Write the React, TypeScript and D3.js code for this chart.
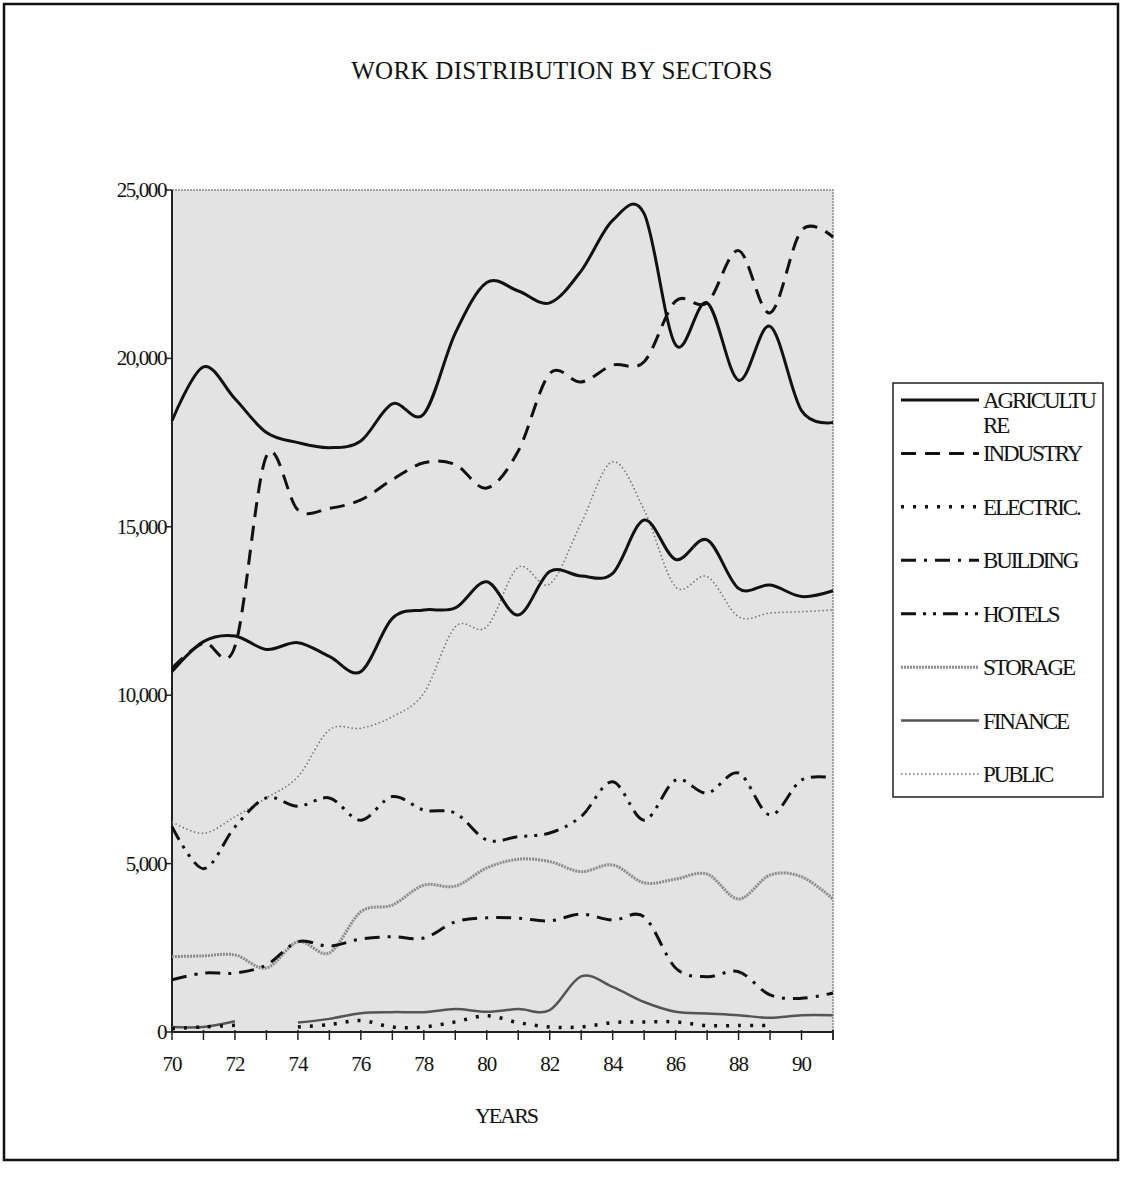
import React, { useEffect, useRef } from 'react';
import * as d3 from 'd3';

// years 1970..1991 (two-digit labels as in the original)
const YEARS = [70, 71, 72, 73, 74, 75, 76, 77, 78, 79, 80, 81, 82, 83, 84, 85, 86, 87, 88, 89, 90, 91];
const YEAR_LABELS = [70, 72, 74, 76, 78, 80, 82, 84, 86, 88, 90];
const Y_TICKS = [0, 5000, 10000, 15000, 20000, 25000];

const AGRICULTURE = [18150, 19750, 18800, 17800, 17500, 17350, 17550, 18650, 18350, 20750, 22250, 22000, 21650, 22600, 24100, 24300, 20400, 21650, 19350, 20950, 18450, 18100];
const INDUSTRY = [10800, 11550, 11450, 17100, 15500, 15550, 15800, 16400, 16900, 16850, 16150, 17250, 19550, 19300, 19800, 19900, 21700, 21650, 23200, 21350, 23800, 23600];
const ELECTRIC = [100, 150, 200, null, 150, 220, 340, 150, 150, 300, 480, 280, 150, 150, 280, 300, 300, 190, 190, 190, null, null];
const BUILDING = [1550, 1750, 1750, 1990, 2680, 2550, 2760, 2830, 2790, 3270, 3390, 3380, 3300, 3500, 3320, 3420, 1900, 1640, 1790, 1100, 1000, 1160];
const HOTELS = [6100, 4850, 6090, 6950, 6700, 6950, 6290, 6990, 6590, 6500, 5700, 5800, 5910, 6400, 7430, 6290, 7480, 7090, 7690, 6440, 7480, 7540];
const STORAGE = [2240, 2260, 2290, 1900, 2680, 2350, 3570, 3770, 4360, 4330, 4870, 5130, 5060, 4760, 4960, 4430, 4540, 4690, 3950, 4660, 4610, 3950];
const FINANCE = [150, 150, 320, null, 280, 390, 560, 590, 590, 680, 600, 680, 650, 1650, 1340, 890, 600, 550, 500, 420, 500, 500];
const PUBLIC = [6240, 5900, 6390, 6950, 7580, 8970, 9020, 9360, 10060, 12030, 12030, 13800, 13300, 15110, 16930, 15500, 13220, 13520, 12330, 12440, 12480, 12530];
// solid black series without a legend entry
const OTHER = [10700, 11590, 11760, 11360, 11560, 11150, 10700, 12280, 12530, 12590, 13370, 12380, 13670, 13540, 13620, 15200, 14030, 14610, 13170, 13270, 12930, 13100];

interface Series {
    name: string[];
    values: (number | null)[];
    stroke: string;
    width: number;
    dash: string | null;
    legend: boolean;
}

const SERIES: Series[] = [
    { name: ['AGRICULTU', 'RE'], values: AGRICULTURE, stroke: '#111', width: 3, dash: null, legend: true },
    { name: ['INDUSTRY'], values: INDUSTRY, stroke: '#111', width: 3, dash: '15,9', legend: true },
    { name: ['ELECTRIC.'], values: ELECTRIC, stroke: '#111', width: 3.5, dash: '3,9', legend: true },
    { name: ['BUILDING'], values: BUILDING, stroke: '#111', width: 3, dash: '15,8,3,8', legend: true },
    { name: ['HOTELS'], values: HOTELS, stroke: '#111', width: 3, dash: '15,7,3,7,3,7', legend: true },
    { name: ['STORAGE'], values: STORAGE, stroke: '#8c8c8c', width: 3, dash: '2,1', legend: true },
    { name: ['FINANCE'], values: FINANCE, stroke: '#555', width: 2.5, dash: null, legend: true },
    { name: ['PUBLIC'], values: PUBLIC, stroke: '#777', width: 1.6, dash: '1.5,2.5', legend: true },
    { name: ['OTHER'], values: OTHER, stroke: '#111', width: 3, dash: null, legend: false },
];

const W = 1124;
const H = 1187;
const FONT = "'Liberation Serif', 'Times New Roman', serif";

export default function App() {
    const svgRef = useRef<SVGSVGElement>(null);

    useEffect(() => {
        if (!svgRef.current) return;
        const svg = d3.select(svgRef.current);
        svg.selectAll('*').remove();

        const x = d3.scaleLinear().domain([70, 91]).range([172, 833]);
        const y = d3.scaleLinear().domain([0, 25000]).range([1032, 190]);

        svg.append('rect').attr('width', W).attr('height', H).attr('fill', '#fff');

        // outer frame of the scanned page
        svg.append('rect')
            .attr('x', 4).attr('y', 4).attr('width', 1114).attr('height', 1156)
            .attr('fill', 'none').attr('stroke', '#111').attr('stroke-width', 2.5);

        // title
        svg.append('text')
            .attr('x', 562).attr('y', 79)
            .attr('text-anchor', 'middle')
            .style('font-family', FONT).style('font-size', '25px')
            .style('letter-spacing', '0.3px')
            .attr('fill', '#111')
            .text('WORK DISTRIBUTION BY SECTORS');

        // plot area
        svg.append('rect')
            .attr('x', x(70)).attr('y', y(25000))
            .attr('width', x(91) - x(70)).attr('height', y(0) - y(25000))
            .attr('fill', '#e3e3e3');
        svg.append('path')
            .attr('d', `M${x(70)},${y(25000)}H${x(91)}V${y(0)}`)
            .attr('fill', 'none').attr('stroke', '#888').attr('stroke-width', 1.5)
            .attr('stroke-dasharray', '2,1');

        // axes
        svg.append('line')
            .attr('x1', x(70)).attr('x2', x(70)).attr('y1', y(25000)).attr('y2', y(0))
            .attr('stroke', '#222').attr('stroke-width', 2);
        svg.append('line')
            .attr('x1', x(70)).attr('x2', x(91)).attr('y1', y(0)).attr('y2', y(0))
            .attr('stroke', '#222').attr('stroke-width', 2);

        svg.append('g').selectAll('line')
            .data(Y_TICKS).enter().append('line')
            .attr('x1', x(70) - 6).attr('x2', x(70))
            .attr('y1', d => y(d)).attr('y2', d => y(d))
            .attr('stroke', '#222').attr('stroke-width', 1.5);
        svg.append('g').selectAll('text')
            .data(Y_TICKS).enter().append('text')
            .attr('x', x(70) - 6).attr('y', d => y(d) + 7)
            .attr('text-anchor', 'end')
            .style('font-family', FONT).style('font-size', '21px')
            .style('letter-spacing', '-1.4px')
            .attr('fill', '#111')
            .text(d => d3.format(',')(d));

        svg.append('g').selectAll('line')
            .data(YEARS).enter().append('line')
            .attr('x1', d => x(d)).attr('x2', d => x(d))
            .attr('y1', y(0) - 2).attr('y2', y(0) + 8)
            .attr('stroke', '#222').attr('stroke-width', 1.5);
        svg.append('line')
            .attr('x1', x(91)).attr('x2', x(91)).attr('y1', y(0) - 2).attr('y2', y(0) + 8)
            .attr('stroke', '#222').attr('stroke-width', 1.5);
        svg.append('g').selectAll('text')
            .data(YEAR_LABELS).enter().append('text')
            .attr('x', d => x(d)).attr('y', 1071)
            .attr('text-anchor', 'middle')
            .style('font-family', FONT).style('font-size', '21px')
            .style('letter-spacing', '-1px')
            .attr('fill', '#111')
            .text(d => String(d));

        svg.append('text')
            .attr('x', 506).attr('y', 1123)
            .attr('text-anchor', 'middle')
            .style('font-family', FONT).style('font-size', '22px')
            .style('letter-spacing', '-2px')
            .attr('fill', '#111')
            .text('YEARS');

        // smoothed series lines
        const line = d3.line<number | null>()
            .defined(d => d !== null)
            .x((_, i) => x(YEARS[i]))
            .y(d => y(d as number))
            .curve(d3.curveCardinal.tension(0));

        const order = [7, 5, 6, 2, 3, 4, 8, 1, 0];
        order.forEach(i => {
            const s = SERIES[i];
            svg.append('path')
                .attr('d', line(s.values) || '')
                .attr('fill', 'none')
                .attr('stroke', s.stroke)
                .attr('stroke-width', s.width)
                .attr('stroke-dasharray', s.dash)
                .attr('stroke-linejoin', 'round');
        });

        // legend
        const lg = svg.append('g');
        lg.append('rect')
            .attr('x', 893).attr('y', 383).attr('width', 210).attr('height', 414)
            .attr('fill', '#fff').attr('stroke', '#222').attr('stroke-width', 1.5);
        const rows = SERIES.filter(s => s.legend);
        const rowY = d3.scaleLinear().domain([0, rows.length - 1]).range([400, 774]);
        rows.forEach((s, i) => {
            const yy = rowY(i);
            lg.append('line')
                .attr('x1', 901).attr('x2', 979).attr('y1', yy).attr('y2', yy)
                .attr('stroke', s.stroke).attr('stroke-width', s.width)
                .attr('stroke-dasharray', s.dash);
            s.name.forEach((t, k) => {
                lg.append('text')
                    .attr('x', 983).attr('y', yy + 8 + k * 25)
                    .style('font-family', FONT).style('font-size', '23px')
                    .style('letter-spacing', '-2.1px')
                    .attr('fill', '#111')
                    .text(t);
            });
        });
    }, []);

    return (
        <div style={{ position: 'absolute', left: 0, top: 0 }}>
            <svg ref={svgRef} width={W} height={H} style={{ display: 'block' }} />
        </div>
    );
}
